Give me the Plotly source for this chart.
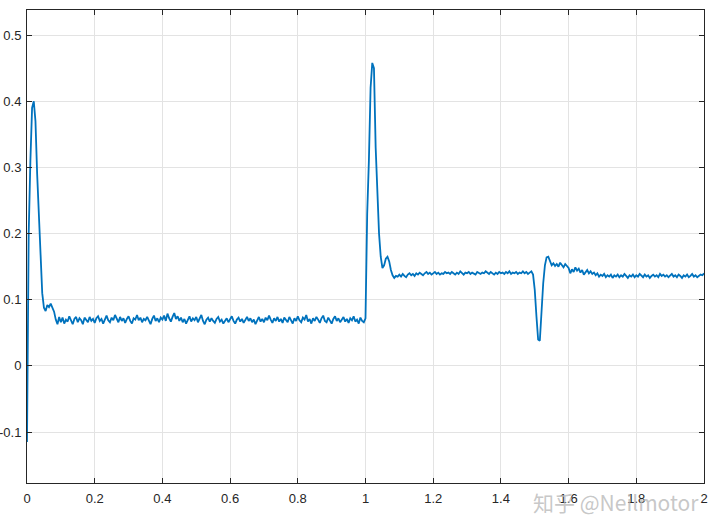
"""Step response trace, MATLAB-style axes."""

import numpy as np
import plotly.graph_objects as go

# sample times: 0 .. 2 s, 5 ms steps
t = np.round(np.arange(0, 401) * 0.005, 3)

# values, one row per 50 ms
y_vals = [
    -0.115, 0.20, 0.31, 0.39, 0.40, 0.37, 0.29, 0.22, 0.16, 0.11,
    0.088, 0.083, 0.092, 0.089, 0.094, 0.087, 0.082, 0.070, 0.063, 0.074,
    0.066, 0.073, 0.064, 0.070, 0.067, 0.075, 0.068, 0.063, 0.071, 0.074,
    0.066, 0.072, 0.069, 0.063, 0.073, 0.070, 0.066, 0.074, 0.068, 0.071,
    0.065, 0.072, 0.075, 0.068, 0.071, 0.064, 0.070, 0.076, 0.069, 0.066,
    0.073, 0.069, 0.077, 0.071, 0.066, 0.074, 0.068, 0.072, 0.065, 0.071,
    0.075, 0.068, 0.064, 0.072, 0.070, 0.077, 0.069, 0.073, 0.066, 0.071,
    0.069, 0.074, 0.067, 0.063, 0.071, 0.076, 0.068, 0.072, 0.066, 0.073,
    0.070, 0.076, 0.068, 0.079, 0.072, 0.067, 0.074, 0.080, 0.071, 0.075,
    0.068, 0.073, 0.066, 0.071, 0.064, 0.070, 0.075, 0.067, 0.072, 0.069,
    0.074, 0.066, 0.071, 0.077, 0.068, 0.063, 0.070, 0.073, 0.067, 0.072,
    0.068, 0.065, 0.071, 0.074, 0.067, 0.070, 0.064, 0.069, 0.072, 0.066,
    0.071, 0.075, 0.068, 0.064, 0.070, 0.073, 0.067, 0.071, 0.065, 0.069,
    0.074, 0.068, 0.072, 0.066, 0.070, 0.063, 0.069, 0.074, 0.067, 0.071,
    0.066, 0.073, 0.069, 0.076, 0.070, 0.065, 0.072, 0.068, 0.074, 0.067,
    0.071, 0.065, 0.073, 0.069, 0.066, 0.074, 0.070, 0.064, 0.072, 0.068,
    0.075, 0.069, 0.066, 0.073, 0.070, 0.077, 0.067, 0.071, 0.064, 0.072,
    0.068, 0.074, 0.070, 0.065, 0.072, 0.076, 0.068, 0.066, 0.073, 0.069,
    0.064, 0.071, 0.075, 0.068, 0.072, 0.066, 0.070, 0.074, 0.067, 0.071,
    0.065, 0.072, 0.069, 0.075, 0.067, 0.070, 0.064, 0.073, 0.068, 0.066,
    0.072, 0.23, 0.31, 0.42, 0.458, 0.45, 0.33, 0.25, 0.20, 0.165,
    0.148, 0.152, 0.162, 0.165, 0.158, 0.145, 0.137, 0.133, 0.136, 0.135,
    0.138, 0.135, 0.139, 0.136, 0.134, 0.138, 0.140, 0.137, 0.139, 0.136,
    0.140, 0.138, 0.141, 0.139, 0.137, 0.140, 0.142, 0.139, 0.141, 0.138,
    0.140, 0.142, 0.139, 0.141, 0.138, 0.140, 0.139, 0.142, 0.140, 0.141,
    0.139, 0.142, 0.140, 0.138, 0.141, 0.139, 0.143, 0.140, 0.138, 0.141,
    0.140, 0.142, 0.139, 0.141, 0.140, 0.138, 0.142, 0.140, 0.139, 0.141,
    0.140, 0.143, 0.141, 0.139, 0.142, 0.140, 0.138, 0.141, 0.139, 0.142,
    0.140, 0.141, 0.139, 0.142, 0.140, 0.143, 0.139, 0.141, 0.140, 0.142,
    0.139, 0.141, 0.140, 0.143, 0.140, 0.142, 0.139, 0.141, 0.143, 0.138,
    0.115, 0.075, 0.040, 0.038, 0.085, 0.125, 0.152, 0.164, 0.165, 0.158,
    0.152, 0.155, 0.151, 0.154, 0.150, 0.156, 0.153, 0.149, 0.154, 0.150,
    0.148, 0.140, 0.146, 0.142, 0.149, 0.144, 0.147, 0.141, 0.145, 0.138,
    0.142, 0.145, 0.140, 0.143, 0.139, 0.141, 0.137, 0.140, 0.135, 0.138,
    0.136, 0.139, 0.134, 0.137, 0.135, 0.138, 0.133, 0.137, 0.135, 0.138,
    0.134, 0.137, 0.135, 0.139, 0.136, 0.133, 0.137, 0.135, 0.138, 0.134,
    0.137, 0.135, 0.139, 0.136, 0.134, 0.138, 0.135, 0.137, 0.133, 0.136,
    0.138, 0.135, 0.137, 0.134, 0.139, 0.136, 0.138, 0.135, 0.137, 0.134,
    0.136, 0.139, 0.135, 0.137, 0.134, 0.138, 0.136, 0.133, 0.137, 0.135,
    0.138, 0.134, 0.136, 0.139, 0.135, 0.137, 0.134, 0.136, 0.138, 0.137,
    0.140,
]

x_ticks = [0, 0.2, 0.4, 0.6, 0.8, 1, 1.2, 1.4, 1.6, 1.8, 2]
x_labels = ["0", "0.2", "0.4", "0.6", "0.8", "1", "1.2", "1.4", "1.6", "1.8", "2"]
y_ticks = [-0.1, 0, 0.1, 0.2, 0.3, 0.4, 0.5]
y_labels = ["-0.1", "0", "0.1", "0.2", "0.3", "0.4", "0.5"]

LINE_BLUE = "#0072BD"
GRID = "#e3e3e3"
AXIS = "#262626"

axis_common = dict(
    showline=True,
    linecolor=AXIS,
    linewidth=1,
    mirror="ticks",
    ticks="inside",
    ticklen=5,
    tickcolor=AXIS,
    showgrid=True,
    gridcolor=GRID,
    gridwidth=1,
    zeroline=False,
    automargin=False,
    tickfont=dict(family="Liberation Sans, Arial", size=13, color=AXIS),
)

fig = go.Figure(
    go.Scatter(
        x=t,
        y=y_vals,
        mode="lines",
        line=dict(color=LINE_BLUE, width=1.8),
        showlegend=False,
    )
)

fig.update_xaxes(range=[0, 2], tickvals=x_ticks, ticktext=x_labels,
                 ticklabelstandoff=3, **axis_common)
fig.update_yaxes(range=[-0.177, 0.538], tickvals=y_ticks, ticktext=y_labels,
                 ticklabelstandoff=2, **axis_common)

# site watermark over the lower-right tick labels
fig.add_annotation(
    text="知乎 @Neilmotor",
    xref="paper", yref="paper",
    x=0.995, y=-0.005,
    xanchor="right", yanchor="top",
    showarrow=False,
    font=dict(family="Noto Sans CJK SC, Liberation Sans", size=21, color="rgba(185,185,185,0.8)"),
)

fig.update_layout(
    width=720,
    height=530,
    margin=dict(l=27, r=16, t=10, b=47),
    paper_bgcolor="white",
    plot_bgcolor="white",
)

# drop the browser's default 8px body margin so the figure sits at the page corner
fig.write_html(
    "out.html",
    config={"displayModeBar": False},
    post_script="document.body.style.margin = '0';",
)
